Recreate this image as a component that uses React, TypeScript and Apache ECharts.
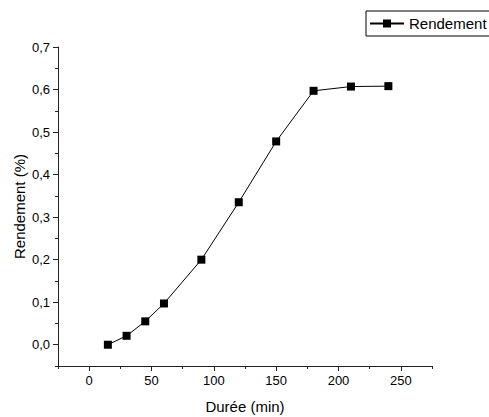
import React, { useEffect, useRef } from "react";
import * as echarts from "echarts";

const durations = [15, 30, 45, 60, 90, 120, 150, 180, 210, 240];
const rendement = [0.0, 0.021, 0.055, 0.097, 0.2, 0.335, 0.478, 0.597, 0.607, 0.608];
const seriesName = "Rendement";
const xName = "Durée (min)";
const yName = "Rendement (%)";
const xMajorTicks = [0, 50, 100, 150, 200, 250];
const yMajorTicks = [0, 0.1, 0.2, 0.3, 0.4, 0.5, 0.6, 0.7];

export default function App() {
  const ref = useRef<HTMLDivElement>(null);
  useEffect(() => {
    document.body.style.margin = "0";
    if (!ref.current) return;
    const chart = echarts.init(ref.current, undefined, { renderer: "svg" });
    const font = "Liberation Sans, Arial, sans-serif";
    const axisCol = "#222";
    const fmtY = (v: number) => {
      const r = Math.round(v * 100);
      if (r < 0 || r % 10 !== 0) return "";
      return (r / 100).toFixed(1).replace(".", ",");
    };
    chart.setOption({
      animation: false,
      backgroundColor: "#fff",
      grid: { left: 58, top: 47, right: 57, bottom: 51, containLabel: false, outerBoundsMode: "none" },
      legend: {
        show: true,
        left: 366,
        top: 11,
        orient: "horizontal",
        itemWidth: 34,
        itemHeight: 10,
        padding: [5, 40, 5, 3],
        borderColor: "#000",
        borderWidth: 1,
        textStyle: { fontFamily: font, fontSize: 15, color: "#000" },
        data: [seriesName],
      },
      xAxis: [
        {
          type: "value",
          min: -25,
          max: 275,
          interval: 25,
          name: xName,
          nameLocation: "middle",
          nameGap: 33,
          nameMoveOverlap: false,
          nameTextStyle: { fontFamily: font, fontSize: 15, color: "#000" },
          axisLine: { show: true, onZero: false, lineStyle: { color: axisCol, width: 1 } },
          axisTick: { show: true, inside: false, length: 5, customValues: xMajorTicks, lineStyle: { color: axisCol } },
          splitLine: { show: false },
          axisLabel: {
            fontFamily: font,
            fontSize: 13,
            color: "#000",
            margin: 8,
            customValues: xMajorTicks,
            formatter: (v: number) => (v % 50 === 0 && v >= 0 ? String(v) : ""),
          },
        },
        {
          type: "value",
          position: "bottom",
          min: -25,
          max: 275,
          interval: 25,
          axisLine: { show: false, onZero: false },
          axisTick: { show: true, inside: false, length: 3, lineStyle: { color: axisCol } },
          axisLabel: { show: false },
          splitLine: { show: false },
        },
      ],
      yAxis: [
        {
          type: "value",
          min: -0.05,
          max: 0.7,
          interval: 0.05,
          name: yName,
          nameLocation: "middle",
          nameGap: 31,
          nameMoveOverlap: false,
          nameTextStyle: { fontFamily: font, fontSize: 15, color: "#000" },
          axisLine: { show: true, onZero: false, lineStyle: { color: axisCol, width: 1 } },
          axisTick: { show: true, inside: false, length: 5, customValues: yMajorTicks, lineStyle: { color: axisCol } },
          splitLine: { show: false },
          axisLabel: {
            fontFamily: font,
            fontSize: 13,
            color: "#000",
            margin: 8,
            customValues: yMajorTicks,
            formatter: fmtY,
          },
        },
        {
          type: "value",
          position: "left",
          min: -0.05,
          max: 0.7,
          interval: 0.05,
          axisLine: { show: false, onZero: false },
          axisTick: { show: true, inside: false, length: 3, lineStyle: { color: axisCol } },
          axisLabel: { show: false },
          splitLine: { show: false },
        },
      ],
      series: [
        {
          name: seriesName,
          type: "line",
          xAxisIndex: 0,
          yAxisIndex: 0,
          data: durations.map((d, i) => [d, rendement[i]]),
          symbol: "rect",
          symbolSize: 8,
          showAllSymbol: true,
          itemStyle: { color: "#000" },
          lineStyle: { color: "#000", width: 1 },
        },
      ],
    });
    return () => chart.dispose();
  }, []);
  return <div ref={ref} style={{ width: 489, height: 417 }} />;
}
